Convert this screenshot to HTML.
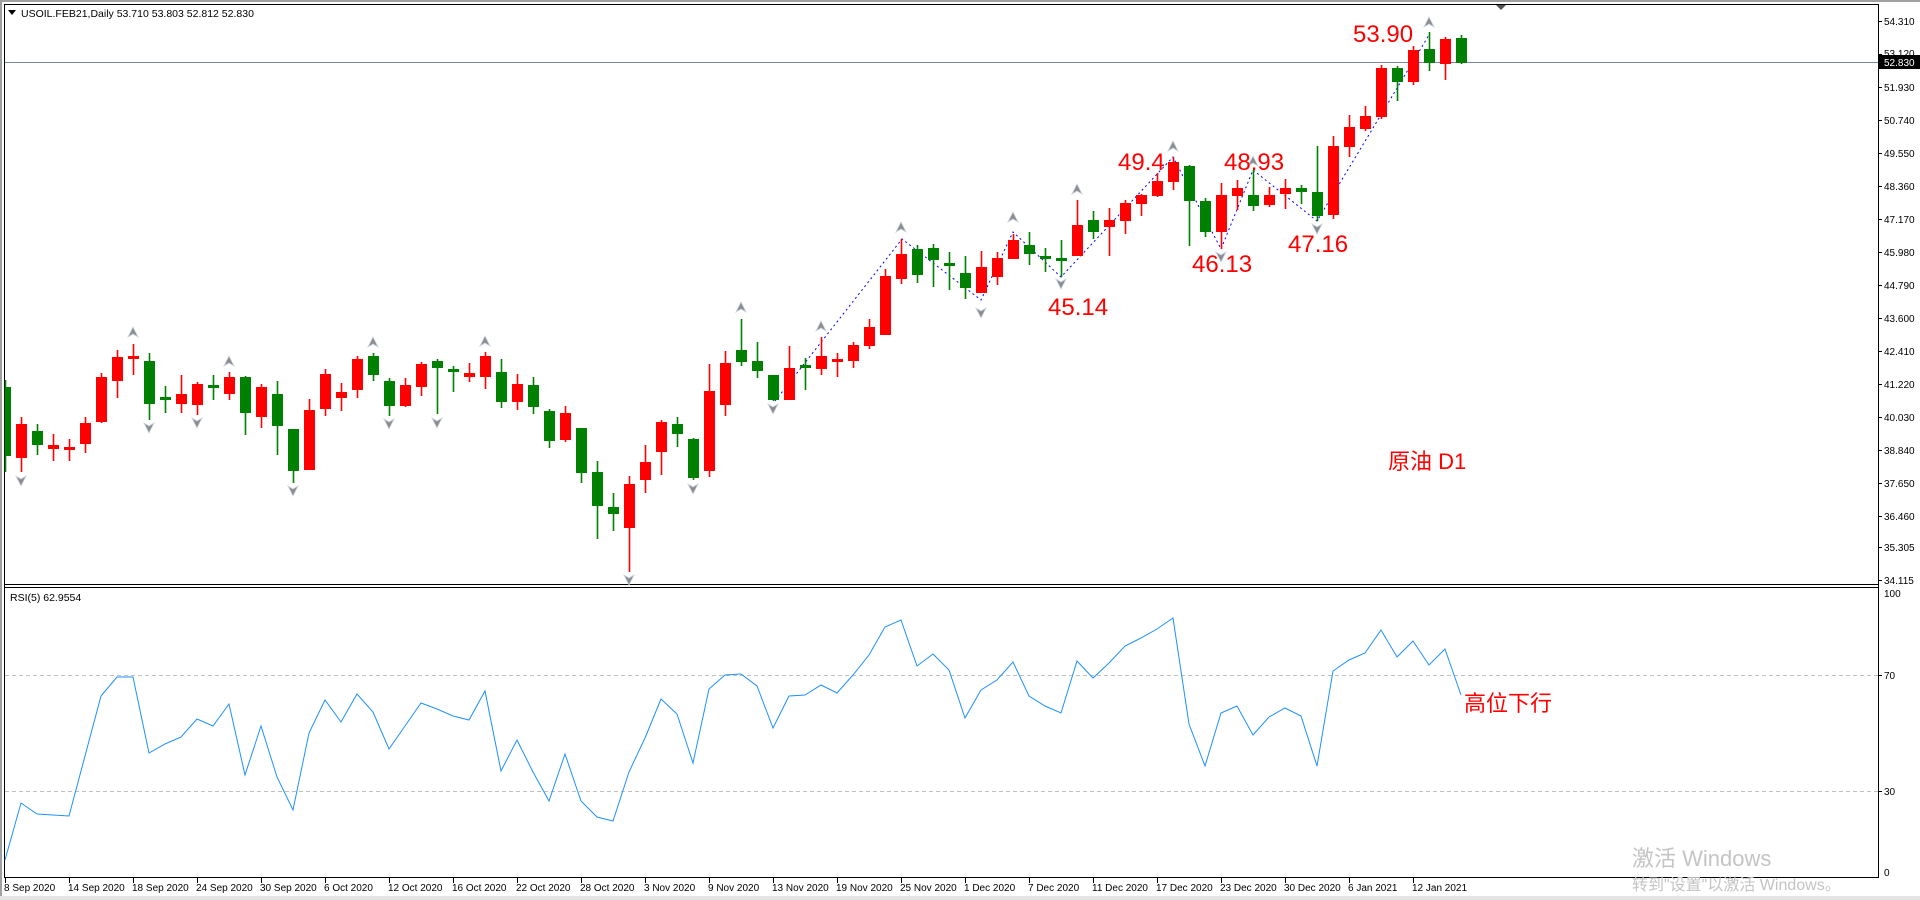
<!DOCTYPE html>
<html><head><meta charset="utf-8"><style>
html,body{margin:0;padding:0;background:#fff;}
svg{display:block;}
text{font-family:"Liberation Sans","Noto Sans CJK SC",sans-serif;}
</style></head><body>
<svg width="1920" height="900" viewBox="0 0 1920 900" xmlns="http://www.w3.org/2000/svg">
<rect x="0" y="0" width="1920" height="900" fill="#fff"/>
<rect x="0" y="0" width="1920" height="2" fill="#a0a0a0"/>
<rect x="0" y="0" width="2" height="900" fill="#a0a0a0"/>
<rect x="0" y="896" width="1920" height="4" fill="#e4e4e4"/>
<!-- frames -->
<path d="M4.5,4.5H1878.5V877.5H4.5Z" fill="none" stroke="#000"/>
<path d="M4.5,584.5H1878.5M4.5,587.5H1878.5" stroke="#000"/>
<!-- price line -->
<path d="M5,62.5H1878" stroke="#778899"/>
<!-- RSI levels -->
<path d="M5,675.5H1878M5,791.5H1878" stroke="#c0c0c0" stroke-dasharray="4,3"/>
<!-- title -->
<path d="M8,10h8l-4,5z" fill="#000"/>
<text x="21" y="17" font-size="10.5" fill="#000">USOIL.FEB21,Daily  53.710 53.803 52.812 52.830</text>
<text x="10" y="601" font-size="10.5" fill="#000">RSI(5) 62.9554</text>
<path d="M1496,5h10l-5,5z" fill="#555"/>

<!-- zigzag -->
<polyline points="775,401 902,239 981,300 1013,232 1061,277 1173,157 1221,249 1253,170 1317,221 1429,35" fill="none" stroke="#0000ff" stroke-width="1" stroke-dasharray="2,3"/>

<!-- wicks -->
<g stroke-width="1.6">
<path stroke="#008000" d="M5.5,380V472M37.5,424V455M149.5,353V420M165.5,386V413M213.5,375V400M245.5,376V435M277.5,381V455M293.5,429V483M373.5,353V381M389.5,378V416M437.5,359V414M453.5,366V392M501.5,359V408M533.5,377V414M549.5,409V448M581.5,428V483M597.5,461V539M613.5,493V531M677.5,417V447M693.5,438V480M741.5,319V366M757.5,342V378M773.5,375V401M805.5,358V390M917.5,245V283M933.5,244V287M949.5,252V290M965.5,256V299M1029.5,232V265M1045.5,248V272M1061.5,240V277M1093.5,211V239M1189.5,165V246M1205.5,198V237M1253.5,170V211M1301.5,185V204M1317.5,146V221M1397.5,66V101M1429.5,32V71M1461.5,35V64"/>
<path stroke="#ff0000" d="M21.5,417V472M53.5,434V461M69.5,439V461M85.5,417V453M101.5,373V423M117.5,350V398M133.5,344V375M181.5,375V413M197.5,382V415M229.5,372V400M261.5,384V428M309.5,399V470M325.5,369V416M341.5,383V411M357.5,356V398M405.5,378V407M421.5,362V396M469.5,363V382M485.5,352V389M517.5,374V410M565.5,406V442M629.5,476V572M645.5,445V493M661.5,420V475M709.5,364V477M725.5,351V416M789.5,346V400M821.5,337V375M837.5,353V377M853.5,342V368M869.5,319V349M885.5,269V335M901.5,239V284M981.5,251V293M997.5,252V285M1013.5,234V259M1077.5,200V256M1109.5,208V256M1125.5,200V234M1141.5,194V216M1157.5,173V197M1173.5,157V190M1221.5,183V249M1237.5,180V210M1269.5,187V207M1285.5,179V209M1333.5,136V219M1349.5,115V157M1365.5,106V131M1381.5,65V119M1413.5,46V85M1445.5,37V80"/>
</g>
<!-- bodies green -->
<g fill="#008000">
<rect x="5" y="387" width="6" height="69"/>
<rect x="32" y="431" width="11" height="14"/>
<rect x="144" y="361" width="11" height="43"/>
<rect x="160" y="397" width="11" height="3"/>
<rect x="208" y="385" width="11" height="3"/>
<rect x="240" y="377" width="11" height="36"/>
<rect x="272" y="394" width="11" height="32"/>
<rect x="288" y="429" width="11" height="42"/>
<rect x="368" y="356" width="11" height="19"/>
<rect x="384" y="381" width="11" height="25"/>
<rect x="432" y="361" width="11" height="7"/>
<rect x="448" y="369" width="11" height="3"/>
<rect x="496" y="372" width="11" height="30"/>
<rect x="528" y="385" width="11" height="22"/>
<rect x="544" y="411" width="11" height="30"/>
<rect x="576" y="428" width="11" height="45"/>
<rect x="592" y="472" width="11" height="34"/>
<rect x="608" y="507" width="11" height="7"/>
<rect x="672" y="424" width="11" height="10"/>
<rect x="688" y="439" width="11" height="39"/>
<rect x="736" y="350" width="11" height="12"/>
<rect x="752" y="361" width="11" height="10"/>
<rect x="768" y="375" width="11" height="25"/>
<rect x="800" y="365" width="11" height="3"/>
<rect x="912" y="249" width="11" height="26"/>
<rect x="928" y="248" width="11" height="12"/>
<rect x="944" y="263" width="11" height="3"/>
<rect x="960" y="273" width="11" height="15"/>
<rect x="1024" y="245" width="11" height="9"/>
<rect x="1040" y="256" width="11" height="3"/>
<rect x="1056" y="258" width="11" height="3"/>
<rect x="1088" y="220" width="11" height="12"/>
<rect x="1184" y="166" width="11" height="35"/>
<rect x="1200" y="201" width="11" height="31"/>
<rect x="1248" y="195" width="11" height="11"/>
<rect x="1296" y="188" width="11" height="4"/>
<rect x="1312" y="192" width="11" height="24"/>
<rect x="1392" y="68" width="11" height="14"/>
<rect x="1424" y="49" width="11" height="14"/>
<rect x="1456" y="38" width="11" height="25"/>
</g>
<!-- bodies red -->
<g fill="#ff0000">
<rect x="16" y="424" width="11" height="34"/>
<rect x="48" y="445" width="11" height="4"/>
<rect x="64" y="447" width="11" height="3"/>
<rect x="80" y="423" width="11" height="21"/>
<rect x="96" y="377" width="11" height="45"/>
<rect x="112" y="357" width="11" height="24"/>
<rect x="128" y="356" width="11" height="3"/>
<rect x="176" y="394" width="11" height="10"/>
<rect x="192" y="384" width="11" height="21"/>
<rect x="224" y="377" width="11" height="17"/>
<rect x="256" y="387" width="11" height="30"/>
<rect x="304" y="410" width="11" height="60"/>
<rect x="320" y="374" width="11" height="35"/>
<rect x="336" y="392" width="11" height="6"/>
<rect x="352" y="359" width="11" height="31"/>
<rect x="400" y="385" width="11" height="21"/>
<rect x="416" y="364" width="11" height="23"/>
<rect x="464" y="373" width="11" height="4"/>
<rect x="480" y="356" width="11" height="21"/>
<rect x="512" y="384" width="11" height="18"/>
<rect x="560" y="413" width="11" height="27"/>
<rect x="624" y="484" width="11" height="44"/>
<rect x="640" y="462" width="11" height="18"/>
<rect x="656" y="422" width="11" height="30"/>
<rect x="704" y="391" width="11" height="80"/>
<rect x="720" y="363" width="11" height="42"/>
<rect x="784" y="368" width="11" height="32"/>
<rect x="816" y="356" width="11" height="13"/>
<rect x="832" y="359" width="11" height="3"/>
<rect x="848" y="345" width="11" height="16"/>
<rect x="864" y="327" width="11" height="19"/>
<rect x="880" y="276" width="11" height="59"/>
<rect x="896" y="254" width="11" height="25"/>
<rect x="976" y="267" width="11" height="26"/>
<rect x="992" y="258" width="11" height="19"/>
<rect x="1008" y="240" width="11" height="19"/>
<rect x="1072" y="225" width="11" height="31"/>
<rect x="1104" y="220" width="11" height="7"/>
<rect x="1120" y="203" width="11" height="18"/>
<rect x="1136" y="195" width="11" height="9"/>
<rect x="1152" y="181" width="11" height="15"/>
<rect x="1168" y="162" width="11" height="20"/>
<rect x="1216" y="195" width="11" height="37"/>
<rect x="1232" y="188" width="11" height="8"/>
<rect x="1264" y="195" width="11" height="10"/>
<rect x="1280" y="188" width="11" height="6"/>
<rect x="1328" y="146" width="11" height="69"/>
<rect x="1344" y="127" width="11" height="20"/>
<rect x="1360" y="116" width="11" height="13"/>
<rect x="1376" y="68" width="11" height="49"/>
<rect x="1408" y="50" width="11" height="32"/>
<rect x="1440" y="39" width="11" height="25"/>
</g>
<!-- fractal arrows -->
<defs>
<path id="up" d="M0,-6L5,4L0,1L-5,4Z" fill="#8c8c8c" stroke="#c8d0e0" stroke-width="0.8"/>
<path id="dn" d="M0,6L5,-4L0,-1L-5,-4Z" fill="#8c8c8c" stroke="#c8d0e0" stroke-width="0.8"/>
</defs>
<use href="#up" x="133" y="333"/><use href="#up" x="229" y="362"/><use href="#up" x="373" y="343"/><use href="#up" x="485" y="342"/><use href="#up" x="741" y="308"/><use href="#up" x="821" y="327"/><use href="#up" x="901" y="228"/><use href="#up" x="1013" y="218"/><use href="#up" x="1077" y="190"/><use href="#up" x="1173" y="147"/><use href="#up" x="1253" y="162"/><use href="#up" x="1429" y="23"/>
<use href="#dn" x="21" y="480"/><use href="#dn" x="149" y="427"/><use href="#dn" x="197" y="422"/><use href="#dn" x="293" y="490"/><use href="#dn" x="389" y="423"/><use href="#dn" x="437" y="422"/><use href="#dn" x="629" y="579"/><use href="#dn" x="693" y="488"/><use href="#dn" x="773" y="408"/><use href="#dn" x="981" y="312"/><use href="#dn" x="1061" y="283"/><use href="#dn" x="1221" y="256"/><use href="#dn" x="1317" y="228"/>

<!-- labels -->
<g fill="#ff0000" font-size="24">
<text x="1048" y="315">45.14</text>
<text x="1118" y="170">49.4</text>
<text x="1224" y="170">48.93</text>
<text x="1192" y="272">46.13</text>
<text x="1288" y="252">47.16</text>
<text x="1353" y="42">53.90</text>
</g>
<text x="1388" y="469" font-size="22" fill="#ff0000">原油 D1</text>
<text x="1464" y="711" font-size="22" fill="#ff0000">高位下行</text>

<!-- RSI -->
<polyline fill="none" stroke="#1e90ff" stroke-width="1" points="5,860 21,803 37,814 53,815 69,816 85,756 101,696 117,677 133,677 149,753 165,744 181,737 197,719 213,726 229,704 245,775 261,726 277,777 293,810 309,733 325,700 341,722 357,694 373,712 389,749 405,726 421,703 437,709 453,716 469,720 485,691 501,771 517,740 533,772 549,801 565,754 581,801 597,817 613,821 629,772 645,738 661,699 677,714 693,763 709,689 725,675 741,674 757,686 773,728 789,696 805,695 821,685 837,693 853,675 869,655 885,627 901,620 917,666 933,654 949,670 965,718 981,690 997,680 1013,662 1029,696 1045,706 1061,713 1077,661 1093,678 1109,663 1125,646 1141,638 1157,629 1173,618 1189,724 1205,766 1221,713 1237,706 1253,735 1269,717 1285,708 1301,716 1317,766 1333,671 1349,660 1365,653 1381,630 1397,657 1413,641 1429,665 1445,649 1461,695"/>

<!-- price axis -->
<g stroke="#000">
<path d="M1878,21.5h4M1878,54.5h4M1878,87.5h4M1878,120.5h4M1878,153.5h4M1878,186.5h4M1878,219.5h4M1878,252.5h4M1878,285.5h4M1878,318.5h4M1878,351.5h4M1878,384.5h4M1878,417.5h4M1878,450.5h4M1878,483.5h4M1878,516.5h4M1878,547.5h4M1878,580.5h4M1878,675.5h4M1878,791.5h4"/>
</g>
<g font-size="10" fill="#000">
<text x="1884" y="25">54.310</text>
<text x="1884" y="57">53.120</text>
<text x="1884" y="91">51.930</text>
<text x="1884" y="124">50.740</text>
<text x="1884" y="157">49.550</text>
<text x="1884" y="190">48.360</text>
<text x="1884" y="223">47.170</text>
<text x="1884" y="256">45.980</text>
<text x="1884" y="289">44.790</text>
<text x="1884" y="322">43.600</text>
<text x="1884" y="355">42.410</text>
<text x="1884" y="388">41.220</text>
<text x="1884" y="421">40.030</text>
<text x="1884" y="454">38.840</text>
<text x="1884" y="487">37.650</text>
<text x="1884" y="520">36.460</text>
<text x="1884" y="551">35.305</text>
<text x="1884" y="584">34.115</text>
<text x="1884" y="597">100</text>
<text x="1884" y="679">70</text>
<text x="1884" y="795">30</text>
<text x="1884" y="876">0</text>
</g>
<rect x="1879" y="55" width="41" height="14" fill="#000"/>
<text x="1884" y="66" font-size="10" fill="#fff">52.830</text>

<!-- date axis -->
<path stroke="#000" d="M5.5,877V883M69.5,877V883M133.5,877V883M197.5,877V883M261.5,877V883M325.5,877V883M389.5,877V883M453.5,877V883M517.5,877V883M581.5,877V883M645.5,877V883M709.5,877V883M773.5,877V883M837.5,877V883M901.5,877V883M965.5,877V883M1029.5,877V883M1093.5,877V883M1157.5,877V883M1221.5,877V883M1285.5,877V883M1349.5,877V883M1413.5,877V883"/>
<g font-size="10" fill="#000">
<text x="4" y="891">8 Sep 2020</text>
<text x="68" y="891">14 Sep 2020</text>
<text x="132" y="891">18 Sep 2020</text>
<text x="196" y="891">24 Sep 2020</text>
<text x="260" y="891">30 Sep 2020</text>
<text x="324" y="891">6 Oct 2020</text>
<text x="388" y="891">12 Oct 2020</text>
<text x="452" y="891">16 Oct 2020</text>
<text x="516" y="891">22 Oct 2020</text>
<text x="580" y="891">28 Oct 2020</text>
<text x="644" y="891">3 Nov 2020</text>
<text x="708" y="891">9 Nov 2020</text>
<text x="772" y="891">13 Nov 2020</text>
<text x="836" y="891">19 Nov 2020</text>
<text x="900" y="891">25 Nov 2020</text>
<text x="964" y="891">1 Dec 2020</text>
<text x="1028" y="891">7 Dec 2020</text>
<text x="1092" y="891">11 Dec 2020</text>
<text x="1156" y="891">17 Dec 2020</text>
<text x="1220" y="891">23 Dec 2020</text>
<text x="1284" y="891">30 Dec 2020</text>
<text x="1348" y="891">6 Jan 2021</text>
<text x="1412" y="891">12 Jan 2021</text>
</g>
<!-- watermark -->
<text x="1632" y="866" font-size="22" fill="#c4c4c4">激活 Windows</text>
<text x="1632" y="890" font-size="16" fill="#c4c4c4">转到"设置"以激活 Windows。</text>
</svg>
</body></html>
